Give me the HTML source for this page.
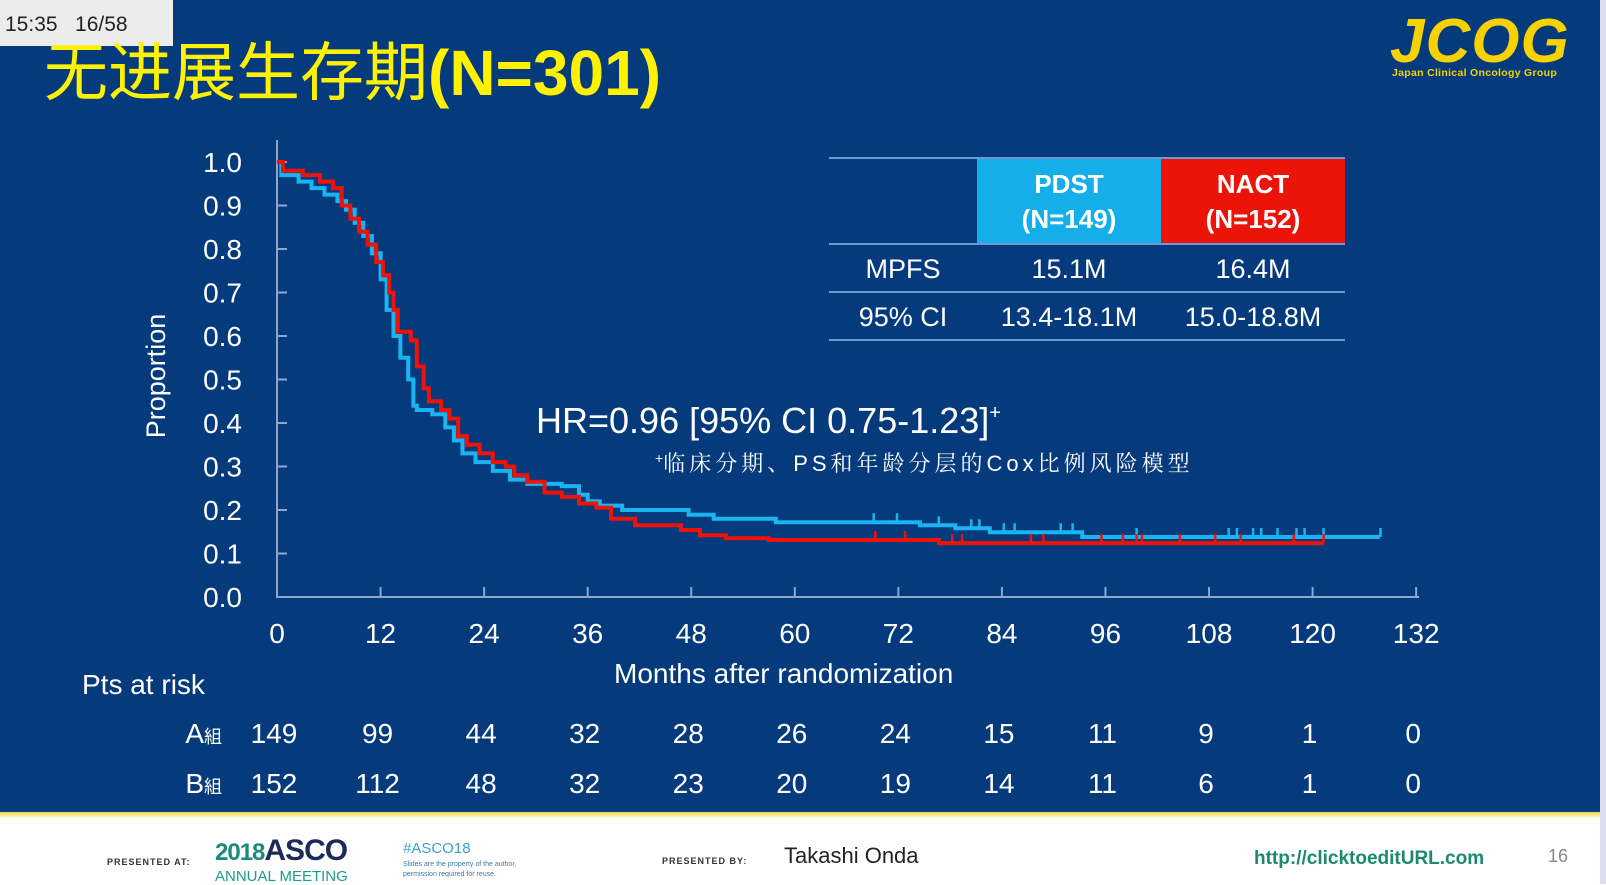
<!DOCTYPE html>
<html><head><meta charset="utf-8"><style>
html,body{margin:0;padding:0}
body{width:1606px;height:884px;position:relative;overflow:hidden;background:#fff;font-family:"Liberation Sans","Noto Sans CJK SC",sans-serif}
.bg{position:absolute;left:0;top:0;width:1600px;height:812px;background:#053b7c}
.yl{position:absolute;left:0;top:812px;width:1600px;height:5px;background:linear-gradient(#e8d94a,#fff6b0)}
.rb{position:absolute;left:1600px;top:0;width:6px;height:884px;background:#dde}
.t{position:absolute;white-space:nowrap}
</style></head><body>
<div class="bg"></div><div class="yl"></div><div class="rb"></div>
<div class="t" style="left:0;top:0;width:173px;height:46px;background:#ececec"></div>
<div class="t" style="left:5px;top:13px;font-size:21px;color:#222">15:35&nbsp;&nbsp;&nbsp;16/58</div>
<div class="t" style="left:44px;top:37px;font-size:64px;color:#fff200;line-height:72px">无进展生存期<b>(N=301)</b></div>
<div class="t" style="left:1390px;top:10px;font-size:62px;color:#f7d200;font-weight:bold;font-style:italic;line-height:64px;letter-spacing:1px">JCOG</div>
<div class="t" style="left:1392px;top:67px;font-size:10.5px;color:#f7d200;font-weight:bold;letter-spacing:0.3px">Japan Clinical Oncology Group</div>

<svg class="t" style="left:0;top:0" width="1600" height="812">
<g stroke="#8ea6cc" stroke-width="2" fill="none">
<path d="M277 140V597H1419"/>
<g id="ticks"></g>
</g>
<rect x="977" y="158" width="184" height="86" fill="#14aeea"/>
<rect x="1161" y="158" width="184" height="86" fill="#ec1408"/>
<g stroke="#6f98d4" stroke-width="2"><line x1="829" y1="158" x2="1345" y2="158"/><line x1="829" y1="244" x2="1345" y2="244"/><line x1="829" y1="292" x2="1345" y2="292"/><line x1="829" y1="340" x2="1345" y2="340"/></g>
<g fill="#fff" font-size="26" font-weight="bold" text-anchor="middle" font-family="Liberation Sans,sans-serif">
<text x="1069" y="193">PDST</text><text x="1069" y="228">(N=149)</text>
<text x="1253" y="193">NACT</text><text x="1253" y="228">(N=152)</text></g>
<g fill="#fff" font-size="27" text-anchor="middle" font-family="Liberation Sans,sans-serif">
<text x="903" y="278">MPFS</text><text x="1069" y="278">15.1M</text><text x="1253" y="278">16.4M</text>
<text x="903" y="326">95% CI</text><text x="1069" y="326">13.4-18.1M</text><text x="1253" y="326">15.0-18.8M</text></g>
<g id="yl" fill="#fff" font-size="28" text-anchor="end" font-family="Liberation Sans,sans-serif"></g>
<g id="xl" fill="#fff" font-size="28" text-anchor="middle" font-family="Liberation Sans,sans-serif"></g>
<text x="165" y="376" transform="rotate(-90 165 376)" fill="#fff" font-size="27" text-anchor="middle" font-family="Liberation Sans,sans-serif">Proportion</text>
<text x="614" y="683" fill="#fff" font-size="28" font-family="Liberation Sans,sans-serif">Months after randomization</text>
<text x="536" y="433" fill="#fff" font-size="36" font-family="Liberation Sans,sans-serif">HR=0.96 [95% CI 0.75-1.23]<tspan font-size="20" dy="-14">+</tspan></text>
<text x="655" y="471" fill="#fff" font-size="22" font-family="Liberation Sans,Noto Serif CJK SC,sans-serif"><tspan font-size="14" dy="-8">+</tspan><tspan dy="8" letter-spacing="4">临床分期、PS和年龄分层的Cox比例风险模型</tspan></text>
<path id="pb" fill="none" stroke="#1ab4f0" stroke-width="4"/>
<path id="pr" fill="none" stroke="#ee1208" stroke-width="4"/>
<path id="cb" fill="none" stroke="#1ab4f0" stroke-width="2.5"/>
<path id="cr" fill="none" stroke="#ee1208" stroke-width="2.5"/>
<text x="82" y="694" fill="#fff" font-size="28" font-family="Liberation Sans,sans-serif">Pts at risk</text>
<g fill="#fff" font-size="28" font-family="Liberation Sans,Noto Sans CJK JP,sans-serif" text-anchor="end">
<text x="222" y="743">A<tspan font-size="18">組</tspan></text><text x="222" y="793">B<tspan font-size="18">組</tspan></text></g>
<g id="risk" fill="#fff" font-size="28" text-anchor="middle" font-family="Liberation Sans,sans-serif"></g>
</svg>

<div class="t" style="left:107px;top:857px;font-size:9px;color:#333;letter-spacing:1px;font-weight:bold">PRESENTED AT:</div>
<div class="t" style="left:215px;top:834px;font-size:30px;font-weight:bold;letter-spacing:-1px"><span style="color:#1b8a7e;font-size:24px">2018</span><span style="color:#1d2b5a">ASCO</span></div>
<div class="t" style="left:215px;top:868px;font-size:15px;color:#1b9a8a">ANNUAL MEETING</div>
<div class="t" style="left:403px;top:840px;font-size:15px;color:#3aa0d8">#ASCO18</div>
<div class="t" style="left:403px;top:860px;font-size:7px;color:#3a7aa0;line-height:10px">Slides are the property of the author,<br>permission required for reuse.</div>
<div class="t" style="left:662px;top:856px;font-size:9px;color:#333;letter-spacing:1px;font-weight:bold">PRESENTED BY:</div>
<div class="t" style="left:784px;top:843px;font-size:22px;color:#222">Takashi Onda</div>
<div class="t" style="left:1254px;top:848px;font-size:19px;color:#1b8a6e;font-weight:bold">http://clicktoeditURL.com</div>
<div class="t" style="left:1548px;top:846px;font-size:18px;color:#888">16</div>

<script>
var X=t=>277+t*8.63, Y=p=>597-p*435;
var ns='http://www.w3.org/2000/svg';
function el(g,tag,a,txt){var e=document.createElementNS(ns,tag);for(var k in a)e.setAttribute(k,a[k]);if(txt!=null)e.textContent=txt;g.appendChild(e);}
var tk=document.getElementById('ticks'),yl=document.getElementById('yl'),xl=document.getElementById('xl'),rk=document.getElementById('risk');
for(var i=0;i<=10;i++){var y=Y(i/10);el(tk,'line',{x1:277,y1:y,x2:287,y2:y});el(yl,'text',{x:242,y:y+10},(i/10).toFixed(1));}
var A=[149,99,44,32,28,26,24,15,11,9,1,0],B=[152,112,48,32,23,20,19,14,11,6,1,0];
for(var i=0;i<=11;i++){var x=X(i*12);el(tk,'line',{x1:x,y1:597,x2:x,y2:587});el(xl,'text',{x:x,y:643},i*12);
el(rk,'text',{x:x-3,y:743},A[i]);el(rk,'text',{x:x-3,y:793},B[i]);}
function path(pts,end){var d='M'+X(0)+' '+Y(pts[0][1]);for(var i=1;i<pts.length;i++){d+='H'+X(pts[i][0]).toFixed(1)+'V'+Y(pts[i][1]).toFixed(1);}d+='H'+X(end);return d;}
var blue=[[0,1],[0.5,0.97],[2.5,0.955],[4,0.94],[5.5,0.925],[7,0.91],[8,0.89],[9,0.86],[10,0.83],[11,0.79],[12,0.73],[12.7,0.66],[13.5,0.6],[14.3,0.55],[15.2,0.5],[15.8,0.44],[16.2,0.43],[18,0.42],[19.5,0.39],[20.5,0.36],[21.5,0.33],[23,0.31],[25,0.29],[27,0.27],[29,0.26],[33,0.255],[35,0.235],[36,0.22],[37.4,0.21],[40,0.2],[47.7,0.189],[50.6,0.18],[57.8,0.172],[74.5,0.165],[78.6,0.158],[82.6,0.149],[93.3,0.138]];
var red=[[0,1],[0.7,0.98],[3,0.97],[5,0.955],[6.5,0.94],[7.5,0.9],[8.5,0.87],[9.5,0.84],[10.5,0.81],[11.5,0.77],[12.3,0.74],[13,0.7],[13.5,0.66],[14,0.61],[15.5,0.59],[16.2,0.53],[17,0.48],[17.6,0.45],[19,0.43],[20,0.41],[21,0.37],[22,0.35],[23.5,0.33],[25,0.31],[26.5,0.3],[27.5,0.28],[29,0.265],[31,0.24],[33,0.23],[35,0.215],[37,0.205],[38.7,0.18],[41.5,0.165],[46.8,0.154],[49,0.142],[52,0.135],[57,0.131],[76.7,0.124]];
document.getElementById('pb').setAttribute('d',path(blue,127.8));
document.getElementById('pr').setAttribute('d',path(red,121.3));
function lvl(pts,t){var v=pts[0][1];for(var i=0;i<pts.length;i++)if(pts[i][0]<=t)v=pts[i][1];return v;}
function cens(pts,xs){var d='';xs.forEach(function(px){var x=600+px/1.845,t=(x-277)/8.63,y=Y(lvl(pts,t));d+='M'+x.toFixed(1)+' '+y.toFixed(1)+'v-9';});return d;}
document.getElementById('cb').setAttribute('d',cens(blue,[505,548,625,685,700,745,765,850,872,990,1160,1175,1205,1220,1250,1285,1300,1335,1440]));
document.getElementById('cr').setAttribute('d',cens(red,[508,563,650,668,795,818,925,965,990,1000,1070,1135,1182,1280,1335]));
</script>
</body></html>
